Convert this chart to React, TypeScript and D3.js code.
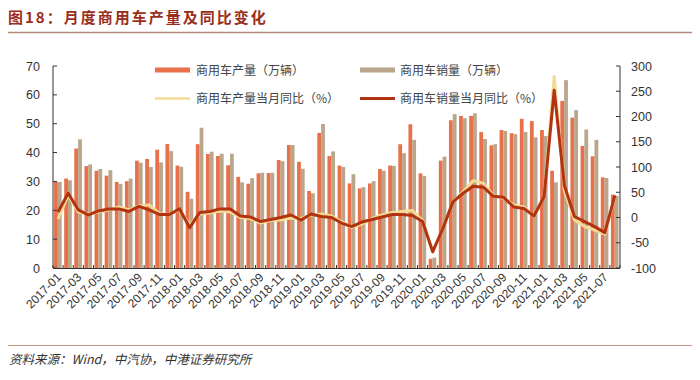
import React from "react";
import * as d3 from "d3";

const months: string[] = [];
for (let y = 2017; y <= 2021; y++) {
  for (let m = 1; m <= 12; m++) {
    if (y === 2021 && m > 8) break;
    months.push(`${y}-${m < 10 ? "0" + m : m}`);
  }
}

const production = [
  29.8, 31.0, 41.4, 35.3, 33.7, 32.0, 29.8, 30.1, 37.2, 37.8, 41.0, 43.0,
  35.5, 26.4, 42.9, 39.5, 38.8, 35.6, 31.6, 29.2, 32.8, 32.9, 37.4, 42.6,
  36.8, 26.7, 46.8, 38.8, 35.5, 29.3, 27.6, 29.3, 34.3, 35.5, 42.9, 49.8,
  32.8, 3.2, 37.2, 51.2, 52.7, 52.7, 47.1, 42.5, 47.8, 46.7, 51.7, 50.9,
  47.8, 33.7, 57.9, 52.1, 42.3, 38.7, 31.4, 25.4,
];
const sales = [
  29.8, 30.4, 44.6, 35.9, 34.3, 33.9, 29.1, 31.0, 36.5, 35.0, 36.6, 40.5,
  35.1, 24.0, 48.6, 40.3, 39.6, 39.6, 29.7, 31.1, 33.0, 33.0, 37.0, 42.6,
  34.4, 25.9, 49.9, 40.4, 35.0, 32.5, 28.0, 30.1, 33.7, 35.4, 39.8, 44.4,
  31.9, 3.6, 38.6, 53.3, 51.9, 53.6, 44.7, 42.9, 47.5, 46.4, 47.1, 45.3,
  45.7, 29.7, 65.1, 54.7, 48.0, 44.4, 31.2, 25.0,
];
const productionYoY = [
  -3, 44, 11, 7, 11, 15, 21, 15, 23, 25, 8, 6,
  15, -15, 7, 9, 13, 11, 0, -2, -11, -6, -5, -1,
  -2, 5, 7, 3, -8, -20, -13, -2, 5, 10, 12, 14,
  -6, -66, -22, 31, 51, 73, 68, 43, 38, 25, 21, 2,
  41, 279, 54, -5, -18, -25, -33, 41,
];
const salesYoY = [
  11, 48, 15, 5, 13, 17, 17, 12, 22, 15, 6, 6,
  17, -20, 10, 12, 17, 17, 3, 1, -8, -4, 0, 5,
  -5, 7, 2, 0, -11, -18, -9, -4, 1, 6, 6, 4,
  -8, -68, -22, 31, 48, 62, 60, 42, 40, 21, 18, 3,
  41, 252, 64, 2, -8, -18, -30, 44,
];
const leftTicks = [0, 10, 20, 30, 40, 50, 60, 70];
const rightTicks = [-100, -50, 0, 50, 100, 150, 200, 250, 300];

const title = "图18：月度商用车产量及同比变化";
const source = "资料来源：Wind，中汽协，中港证券研究所";
const legendNames = ["商用车产量（万辆）", "商用车销量（万辆）", "商用车产量当月同比（%）", "商用车销量当月同比（%）"];

const C_PROD = "#E8714B";
const C_SALES = "#B9A68B";
const C_PYOY = "#F3DB95";
const C_SYOY = "#B2330F";
const NUM_FONT = "'Liberation Sans', Arial, sans-serif";
const CJK_FONT = "'Noto Sans CJK SC', sans-serif";

export default function App() {
  const L = 53, R = 620, T = 66, B = 268;
  const x = d3.scaleBand<number>().domain(d3.range(months.length)).range([L, R]).paddingInner(0).paddingOuter(0);
  const yL = d3.scaleLinear().domain([0, 70]).range([B, T]);
  const yR = d3.scaleLinear().domain([-100, 300]).range([B, T]);
  const step = x.bandwidth();
  const bw = 3.8;
  const cx = (i: number) => (x(i) as number) + step / 2;

  const lineP = d3.line<number>().x((_, i) => cx(i)).y((d) => yR(d)).curve(d3.curveLinear);

  return (
    <svg width={700} height={380} style={{ position: "absolute", left: 0, top: 0, background: "#fff" }}>
      <text x={8} y={23} fontFamily={CJK_FONT} fontWeight="bold" fontSize={15} letterSpacing={2} fill="#9A2E1C">{title}</text>
      <line x1={8} x2={692} y1={32.5} y2={32.5} stroke="#B58B7C" strokeWidth={1.5} />

      {months.map((m, i) => (
        <g key={m}>
          <rect x={cx(i) - bw - 0.2} y={yL(production[i])} width={bw} height={B - yL(production[i])} fill={C_PROD} />
          <rect x={cx(i) - 0.2} y={yL(sales[i])} width={bw} height={B - yL(sales[i])} fill={C_SALES} />
        </g>
      ))}

      <path d={lineP(productionYoY) || ""} fill="none" stroke={C_PYOY} strokeWidth={3} strokeLinejoin="round" />
      <path d={lineP(salesYoY) || ""} fill="none" stroke={C_SYOY} strokeWidth={3} strokeLinejoin="round" />

      {/* axes */}
      <line x1={L} x2={L} y1={T} y2={B} stroke="#333" strokeWidth={1} />
      <line x1={R} x2={R} y1={T} y2={B} stroke="#333" strokeWidth={1} />
      <line x1={L} x2={R} y1={B + 0.5} y2={B + 0.5} stroke="#333" strokeWidth={1} />
      {leftTicks.map((t) => (
        <g key={"l" + t}>
          <line x1={L} x2={L + 4} y1={yL(t)} y2={yL(t)} stroke="#333" />
          <text x={40} y={yL(t) + 4.5} textAnchor="end" fontFamily={NUM_FONT} fontSize={12.5} fill="#333">{t}</text>
        </g>
      ))}
      {rightTicks.map((t) => (
        <g key={"r" + t}>
          <line x1={R - 4} x2={R} y1={yR(t)} y2={yR(t)} stroke="#333" />
          <text x={631} y={yR(t) + 4.5} textAnchor="start" fontFamily={NUM_FONT} fontSize={12.5} fill="#333">{t}</text>
        </g>
      ))}
      {d3.range(months.length + 1).map((i) => {
        const xx = L + i * step;
        return <line key={"bt" + i} x1={xx} x2={xx} y1={B} y2={B - 3} stroke="#333" />;
      })}
      {months.map((m, i) =>
        i % 2 === 0 ? (
          <text key={"xl" + m} transform={`translate(${cx(i) + 4},${B + 10}) rotate(-45)`} textAnchor="end"
            fontFamily={NUM_FONT} fontSize={12} fill="#333">{m}</text>
        ) : null
      )}

      {/* legend */}
      <rect x={155} y={67.5} width={35} height={5} fill={C_PROD} />
      <text x={196} y={74.5} fontFamily={CJK_FONT} fontSize={12} fill="#444">{legendNames[0]}</text>
      <rect x={360} y={67.5} width={35} height={5} fill={C_SALES} />
      <text x={400} y={74.5} fontFamily={CJK_FONT} fontSize={12} fill="#444">{legendNames[1]}</text>
      <line x1={155} x2={190} y1={98.5} y2={98.5} stroke={C_PYOY} strokeWidth={2.5} />
      <text x={196} y={103} fontFamily={CJK_FONT} fontSize={12} fill="#444">{legendNames[2]}</text>
      <line x1={360} x2={395} y1={98.5} y2={98.5} stroke={C_SYOY} strokeWidth={3} />
      <text x={400} y={103} fontFamily={CJK_FONT} fontSize={12} fill="#444">{legendNames[3]}</text>

      <line x1={8} x2={692} y1={345.5} y2={345.5} stroke="#C8937F" strokeWidth={1} />
      <text x={9} y={364} fontFamily={CJK_FONT} fontStyle="italic" fontSize={12.5} fill="#333">{source}</text>
    </svg>
  );
}
